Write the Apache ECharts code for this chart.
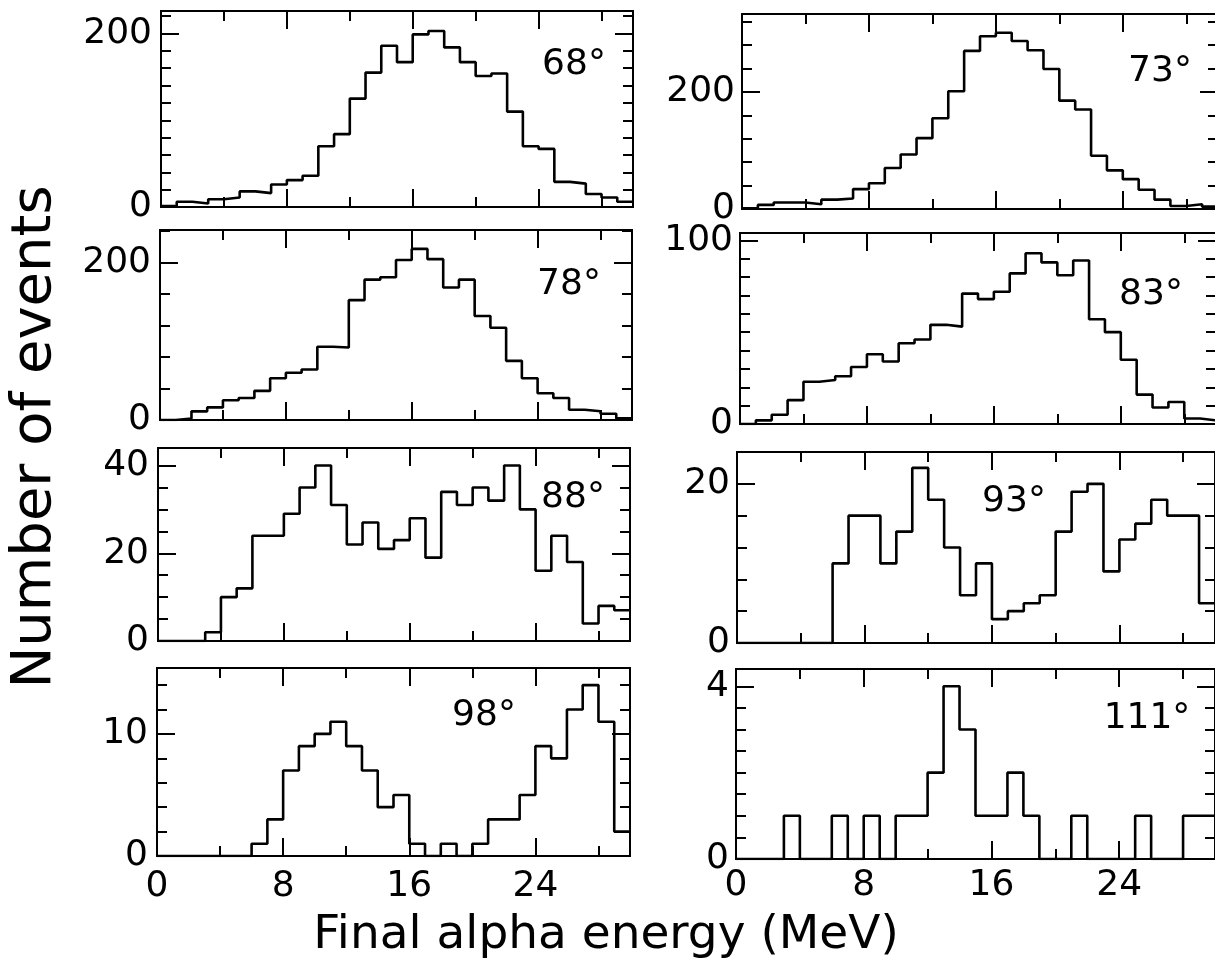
<!DOCTYPE html>
<html>
<head>
<meta charset="utf-8">
<script src="https://cdn.jsdelivr.net/npm/echarts@6/dist/echarts.min.js"></script>
<style>
html,body{margin:0;padding:0;background:#fff;}
#chart{width:1215px;height:972px;}
</style>
</head>
<body>
<div id="chart"></div>
<script>
// ---------------- DATA ----------------
const binLeftEdges = [0,1,2,3,4,5,6,7,8,9,10,11,12,13,14,15,16,17,18,19,20,21,22,23,24,25,26,27,28,29];
const binWidth = 1; // MeV
const xTickLabels = [0, 8, 16, 24];

const angles = ['68°', '73°', '78°', '83°', '88°', '93°', '98°', '111°'];

const counts68  = [1,6,4,9,11,18,16,26,31,36,70,84,125,155,186,167,199,203,184,167,151,154,110,70,67,29,27,15,11,6];
const counts73  = [1,7,11,11,8,16,18,34,44,70,93,121,155,201,270,295,301,287,271,239,185,170,91,66,51,33,16,5,8,4];
const counts78  = [0,2,11,16,25,28,37,53,60,64,93,92,152,178,181,203,217,204,168,178,132,117,75,53,34,28,13,11,8,2];
const counts83  = [0,2,5,13,23,24,26,31,38,34,44,46,54,53,71,68,72,82,93,88,81,89,57,50,35,16,9,12,3,2];
const counts88  = [0,0,0,2,10,12,24,24,29,35,40,31,22,27,21,23,28,19,34,31,35,32,40,30,16,24,18,4,8,7];
const counts93  = [0,0,0,0,0,0,10,16,16,10,14,22,18,12,6,10,3,4,5,6,14,19,20,9,13,15,18,16,16,5];
const counts98  = [0,0,0,0,0,0,1,3,7,9,10,11,9,7,4,5,1,0,1,0,1,3,3,5,9,8,12,14,11,2];
const counts111 = [0,0,0,1,0,0,1,0,1,0,1,1,2,4,3,1,1,2,1,0,0,1,0,0,0,1,0,0,1,1];

const yTickLabels68  = [0, 200];
const yTickLabels73  = [0, 200];
const yTickLabels78  = [0, 200];
const yTickLabels83  = [0, 100];
const yTickLabels88  = [0, 20, 40];
const yTickLabels93  = [0, 20];
const yTickLabels98  = [0, 10];
const yTickLabels111 = [0, 4];

// axis extents / tick steps
const yMaxes      = [226, 333, 241, 104, 44, 24, 15.4, 4.4];
const yMinorSteps = [20, 40, 40, 10, 5, 4, 2, 0.5];
const yMajorSteps = [200, 200, 200, 100, 20, 20, 10, 4];

const allCounts = [counts68, counts73, counts78, counts83, counts88, counts93, counts98, counts111];
const allYLabels = [yTickLabels68, yTickLabels73, yTickLabels78, yTickLabels83, yTickLabels88, yTickLabels93, yTickLabels98, yTickLabels111];

// ---------------- LAYOUT ----------------
const layout = [
  {left:161, top:11,  width:472, height:196, lx:574,  ly:65,  xMargin:13},
  {left:742, top:14,  width:476, height:195, lx:1160, ly:72,  xMargin:9},
  {left:160, top:230, width:472, height:190, lx:569,  ly:285, xMargin:13},
  {left:740, top:233, width:476, height:191, lx:1151, ly:295, xMargin:9},
  {left:158, top:448, width:472, height:193, lx:573,  ly:498, xMargin:13},
  {left:737, top:452, width:478, height:191, lx:1014, ly:502, xMargin:9},
  {left:157, top:668, width:473, height:188, lx:484,  ly:716, xMargin:13},
  {left:736, top:669, width:479, height:190, lx:1147, ly:719, xMargin:9}
];

const FONT = '"DejaVu Sans", sans-serif';
const BLACK = '#000';
const MINOR_LEN = 10, MAJOR_LEN = 18;

function stepData(counts) {
  const pts = binLeftEdges.map((x, i) => [x, counts[i]]);
  const last = binLeftEdges.length - 1;
  pts.push([binLeftEdges[last] + binWidth, counts[last]]);
  return pts;
}

const grids = [], xAxes = [], yAxes = [], series = [], graphics = [];

layout.forEach((L, i) => {
  const isBottom = i >= 6;
  const isRight = i % 2 === 1;
  grids.push({
    left: L.left, top: L.top, width: L.width, height: L.height,
    show: true, borderColor: BLACK, borderWidth: 2, backgroundColor: 'transparent',
    outerBoundsMode: 'none'
  });
  const xBase = {gridIndex: i, type: 'value', min: 0, max: 30,
    axisLine: {show: false, onZero: false}, splitLine: {show: false}, splitArea: {show: false}};
  const tick = (len) => ({show: true, inside: true, length: len, lineStyle: {color: BLACK, width: 2}});
  xAxes.push(Object.assign({}, xBase, {position: 'bottom', interval: 4, axisTick: tick(MINOR_LEN), axisLabel: {show: false}}));
  xAxes.push(Object.assign({}, xBase, {position: 'bottom', interval: 8, axisTick: tick(MAJOR_LEN),
    axisLabel: {show: isBottom, margin: L.xMargin, color: BLACK, fontSize: 36, fontFamily: FONT,
      showMaxLabel: false,
      formatter: v => xTickLabels.indexOf(v) >= 0 ? String(v) : ''}}));
  xAxes.push(Object.assign({}, xBase, {position: 'top', interval: 4, axisTick: tick(MINOR_LEN), axisLabel: {show: false}}));
  xAxes.push(Object.assign({}, xBase, {position: 'top', interval: 8, axisTick: tick(MAJOR_LEN), axisLabel: {show: false}}));

  const yBase = {gridIndex: i, type: 'value', min: 0, max: yMaxes[i],
    axisLine: {show: false, onZero: false}, splitLine: {show: false}, splitArea: {show: false}};
  const labs = allYLabels[i];
  yAxes.push(Object.assign({}, yBase, {position: 'left', interval: yMinorSteps[i], axisTick: tick(MINOR_LEN), axisLabel: {show: false}}));
  yAxes.push(Object.assign({}, yBase, {position: 'left', interval: yMajorSteps[i], axisTick: tick(MAJOR_LEN),
    axisLabel: {show: true, margin: isRight ? 7 : 9, color: BLACK, fontSize: 36, fontFamily: FONT,
      showMaxLabel: true,
      formatter: v => labs.indexOf(v) >= 0 ? String(v) : ''}}));
  yAxes.push(Object.assign({}, yBase, {position: 'right', interval: yMinorSteps[i], axisTick: tick(MINOR_LEN), axisLabel: {show: false}}));
  yAxes.push(Object.assign({}, yBase, {position: 'right', interval: yMajorSteps[i], axisTick: tick(MAJOR_LEN), axisLabel: {show: false}}));

  series.push({
    type: 'line', step: 'end', xAxisIndex: 4 * i + 1, yAxisIndex: 4 * i + 1,
    data: stepData(allCounts[i]), showSymbol: false, symbol: 'none', silent: true,
    lineStyle: {color: BLACK, width: 2.6}, animation: false, clip: true
  });

  graphics.push({type: 'text', x: L.lx, y: L.ly,
    style: {text: angles[i], font: '36px ' + FONT, fill: BLACK, align: 'center', verticalAlign: 'middle'}});
});

graphics.push({type: 'text', x: 606, y: 936,
  style: {text: 'Final alpha energy (MeV)', font: '47px ' + FONT, fill: BLACK, align: 'center', verticalAlign: 'middle'}});
graphics.push({type: 'text', x: 35, y: 437, rotation: Math.PI / 2,
  style: {text: 'Number of events', font: '56px ' + FONT, fill: BLACK, align: 'center', verticalAlign: 'middle'}});

const chart = echarts.init(document.getElementById('chart'), null, {renderer: 'canvas'});
chart.setOption({
  backgroundColor: '#fff',
  animation: false,
  grid: grids,
  xAxis: xAxes,
  yAxis: yAxes,
  series: series,
  graphic: graphics
});
</script>
</body>
</html>
